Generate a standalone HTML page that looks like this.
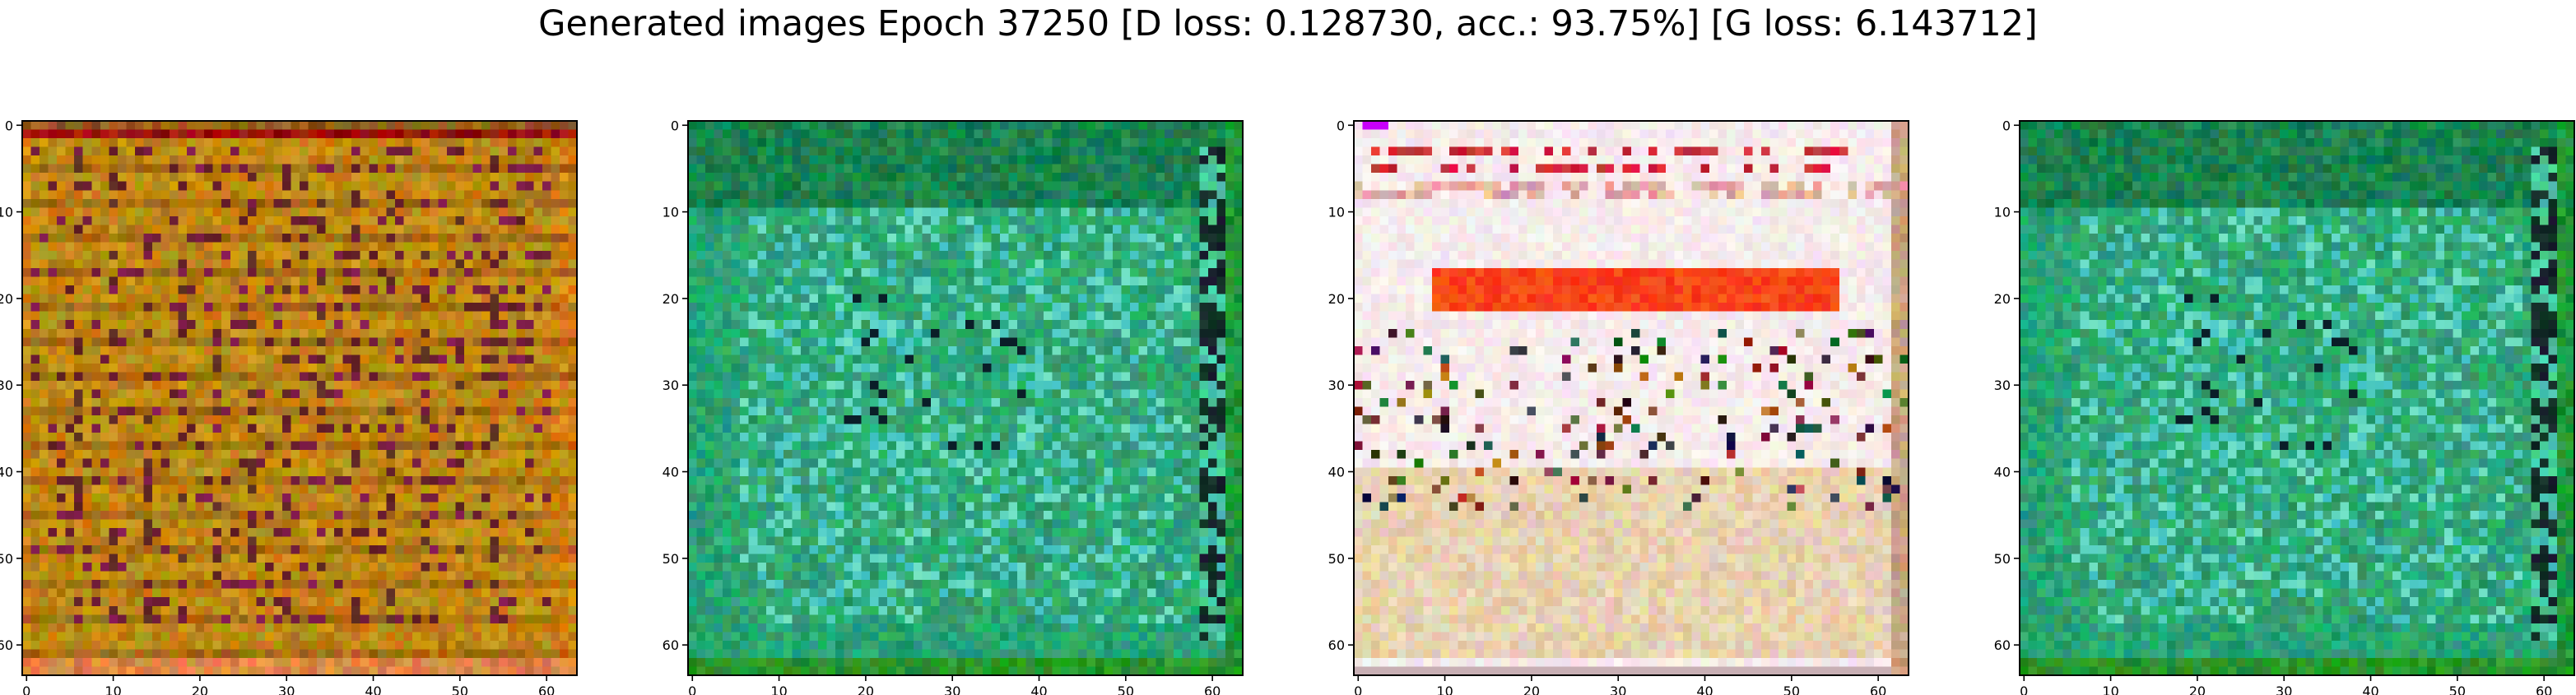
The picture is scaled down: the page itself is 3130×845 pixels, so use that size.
<!DOCTYPE html>
<html><head><meta charset="utf-8">
<style>
html,body{margin:0;padding:0;background:#fff;}
body{width:3130px;height:845px;position:relative;overflow:hidden;font-family:"DejaVu Sans","Liberation Sans",sans-serif;}
#title{position:absolute;left:0;width:3130px;top:4px;text-align:center;font-size:43px;color:#000;font-family:"DejaVu Sans","Liberation Sans",sans-serif;}
canvas.img{position:absolute;width:674px;height:674px;image-rendering:pixelated;}
svg{position:absolute;left:0;top:0;}
</style></head>
<body>
<div id="title">Generated images Epoch 37250 [D loss: 0.128730, acc.: 93.75%] [G loss: 6.143712]</div>
<canvas class="img" id="c0" width="64" height="64" style="left:27px;top:147px"></canvas>
<canvas class="img" id="c1" width="64" height="64" style="left:836px;top:147px"></canvas>
<canvas class="img" id="c2" width="64" height="64" style="left:1645px;top:147px"></canvas>
<canvas class="img" id="c3" width="64" height="64" style="left:2454px;top:147px"></canvas>
<svg id="axes" width="3130" height="845"></svg>
<script>
const panelLefts=[27,836,1645,2454];
const tickValues=[0,10,20,30,40,50,60];
const imgSize=64;
const top0=147, side=674;
function h(x,y,s){let n=(x*374761393+y*668265263+s*982451653)|0;n=(n^(n>>>13))*1274126177|0;n=n^(n>>>16);return ((n>>>0)%10000)/10000;}
function cl(v){return Math.max(0,Math.min(255,Math.round(v)));}
function draw(id,fn){const c=document.getElementById(id).getContext('2d');const im=c.createImageData(64,64);
for(let y=0;y<64;y++)for(let x=0;x<64;x++){const p=fn(x,y);const i=(y*64+x)*4;im.data[i]=cl(p[0]);im.data[i+1]=cl(p[1]);im.data[i+2]=cl(p[2]);im.data[i+3]=255;}c.putImageData(im,0,0);}
// Panel 1: orange/brown with dark stripes
draw('c0',(x,y)=>{let r=h(x,y,1),q=h(x,y,2);let b=[190,135,20];
 if(y==0)b=[150,90,30]; else if(y==1)b=[180,45,10];
 else if(y>=62)b=[225,135,70];
 else if(x==0||x>=61)b=[205,135,20];
 if(y%4==1)b=[b[0]-25,b[1]-30,b[2]];
 let dark=(y%2==1&&y>2&&y<58&&q<0.22)||(x%4==2&&x>5&&x<58&&y>3&&y<58&&r<0.22);
 if(dark&&!(x==0||x>=61||y<2||y>=61))return [90+r*50,25+q*30,30+r*60];
 return [b[0]+(r-0.5)*60,b[1]+(q-0.5)*60,b[2]+(h(x,y,3)-0.5)*50];});
function green(s){return (x,y)=>{let r=h(x,y,s),q=h(x,y,s+1);let b=[40,165,115];
 if(y<10)b=[25,130,80];
 if(x>=59&&x<=61&&y>2&&y<60){ if(r<0.5)return [10+r*40,20+q*40,30+r*40]; b=[60,200,160];}
 if(x>=62)b=[30,150,60];
 if(y>=62)b=[40,150,40];
 if(x>=6&&x<58&&y>=10&&y<58&&r<0.25)return [60+q*60,190+q*40,190+r*60];
 if(x>=18&&x<40&&y>=20&&y<40&&q<0.08)return [10,30,40];
 return [b[0]+(r-0.5)*50,b[1]+(q-0.5)*50,b[2]+(h(x,y,s+2)-0.5)*60];};}
draw('c1',green(10));
draw('c3',green(10));
// Panel 3: pale with red band
draw('c2',(x,y)=>{let r=h(x,y,20),q=h(x,y,21),t=h(x,y,22);
 if(y==0&&x>=1&&x<=3)return [200,0,250];
 if(y>=17&&y<=21&&x>=9&&x<=55)return [240+r*15,40+q*60,10+t*30];
 if((y==3||y==5)&&x>0&&x<58&&r<0.55)return [180+q*60,10+t*60,40+r*60];
 if((y==7||y==8)&&r<0.6)return [200+q*50,130+t*80,140+r*80];
 if(y>=24&&y<=44&&r<0.13)return [t*200,q*150,r*800];
 if(x>=62)return [180+r*40,140+q*50,100+t*60];
 if(y>=40&&y<62)return [232+(r-0.5)*30,210+(q-0.5)*40,175+(t-0.5)*60];
 if(y==63)return [200,175,180];
 return [245+(r-0.5)*20,235+(q-0.5)*30,235+(t-0.5)*30];});
// Axes
const svg=document.getElementById('axes');const NS='http://www.w3.org/2000/svg';
const sc=side/imgSize;
function px(left,v){return left+(v+0.5)*sc;}
function py(v){return top0+(v+0.5)*sc;}
panelLefts.forEach((L,k)=>{
 const fr=document.createElementNS(NS,'rect');fr.setAttribute('x',L);fr.setAttribute('y',top0);fr.setAttribute('width',side);fr.setAttribute('height',side);fr.setAttribute('fill','none');fr.setAttribute('stroke','#000');fr.setAttribute('stroke-width','2');
 
 
 svg.appendChild(fr);
 tickValues.forEach(v=>{
  const x=px(L,v);
  const tl=document.createElementNS(NS,'line');tl.setAttribute('x1',x);tl.setAttribute('x2',x);tl.setAttribute('y1',top0+side);tl.setAttribute('y2',top0+side+7);tl.setAttribute('stroke','#000');tl.setAttribute('stroke-width','1.6');
  
  
  svg.appendChild(tl);
  const tx=document.createElementNS(NS,'text');tx.setAttribute('x',x);tx.setAttribute('y',top0+side+25);tx.setAttribute('text-anchor','middle');tx.setAttribute('font-size','16');tx.setAttribute('font-family','DejaVu Sans, Liberation Sans, sans-serif');tx.textContent=v;
  
  
  svg.appendChild(tx);
  const y=py(v);
  const yl=document.createElementNS(NS,'line');yl.setAttribute('x1',L-7);yl.setAttribute('x2',L);yl.setAttribute('y1',y);yl.setAttribute('y2',y);yl.setAttribute('stroke','#000');yl.setAttribute('stroke-width','1.6');
  
  
  svg.appendChild(yl);
  const ty=document.createElementNS(NS,'text');ty.setAttribute('x',L-11);ty.setAttribute('y',y+6);ty.setAttribute('text-anchor','end');ty.setAttribute('font-size','16');ty.setAttribute('font-family','DejaVu Sans, Liberation Sans, sans-serif');ty.textContent=v;
  
  
  svg.appendChild(ty);
 });
});
</script>
</body></html>
